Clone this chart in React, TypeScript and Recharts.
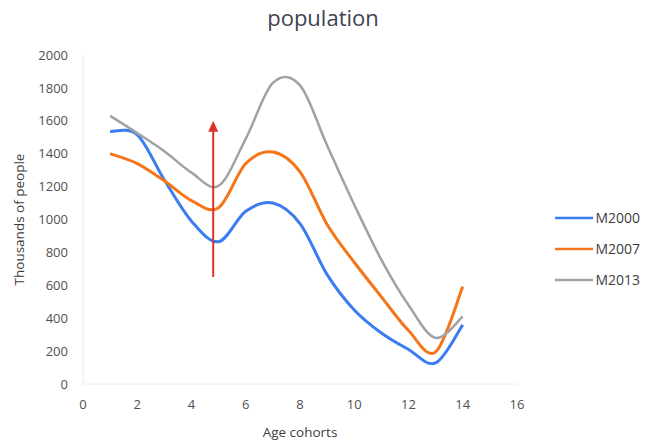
import React from "react";
import {
  LineChart,
  Line,
  XAxis,
  YAxis,
  Legend,
  ReferenceLine,
  ReferenceDot,
} from "recharts";

const cohorts = [1, 2, 3, 4, 5, 6, 7, 8, 9, 10, 11, 12, 13, 14];
const m2000 = [1535, 1515, 1240, 990, 865, 1050, 1100, 975, 665, 450, 310, 210, 128, 360];
const m2007 = [1400, 1340, 1235, 1115, 1072, 1340, 1410, 1290, 970, 740, 530, 325, 195, 592];
const m2013 = [1630, 1525, 1415, 1285, 1205, 1490, 1830, 1815, 1450, 1090, 755, 480, 280, 410];

const xTicks = [0, 2, 4, 6, 8, 10, 12, 14, 16];
const yTicks = [0, 200, 400, 600, 800, 1000, 1200, 1400, 1600, 1800, 2000];

// the red arrow drawn over the chart
const arrowX = 4.8;
const arrowFrom = 650;
const arrowTo = 1600;

const series = [
  { key: "M2000", color: "#3b7cf0", width: 3 },
  { key: "M2007", color: "#f5761a", width: 3 },
  { key: "M2013", color: "#a2a2a6", width: 2.5 },
];

const data = cohorts.map((age, i) => ({
  age,
  M2000: m2000[i],
  M2007: m2007[i],
  M2013: m2013[i],
}));

// Excel-like smoothed line (Catmull-Rom through every point)
function smoothCurve(context: any) {
  let pts: number[][] = [];
  return {
    areaStart() {},
    areaEnd() {},
    lineStart() {
      pts = [];
    },
    point(x: number, y: number) {
      pts.push([+x, +y]);
    },
    lineEnd() {
      const n = pts.length;
      if (!n) return;
      context.moveTo(pts[0][0], pts[0][1]);
      for (let i = 0; i < n - 1; i++) {
        const p0 = pts[i - 1] || pts[i];
        const p1 = pts[i];
        const p2 = pts[i + 1];
        const p3 = pts[i + 2] || p2;
        context.bezierCurveTo(
          p1[0] + (p2[0] - p0[0]) / 6,
          p1[1] + (p2[1] - p0[1]) / 6,
          p2[0] - (p3[0] - p1[0]) / 6,
          p2[1] - (p3[1] - p1[1]) / 6,
          p2[0],
          p2[1]
        );
      }
    },
  };
}

const tickStyle = { fontSize: 13, fill: "#505050" };

function LegendBox() {
  return (
    <div style={{ width: 90 }}>
      {series.map((s) => (
        <div
          key={s.key}
          style={{ height: 31, display: "flex", alignItems: "center", fontSize: 14, color: "#404040" }}
        >
          <svg width={42} height={6} style={{ marginLeft: 5 }}>
            <line x1={0} y1={3} x2={38} y2={3} stroke={s.color} strokeWidth={2.5} />
          </svg>
          <span>{s.key}</span>
        </div>
      ))}
    </div>
  );
}

export default function App() {
  return (
    <div
      style={{
        position: "absolute",
        left: 0,
        top: 0,
        width: 646,
        height: 442,
        background: "#fff",
        fontFamily: '"Open Sans", sans-serif',
      }}
    >
      <div
        style={{
          position: "absolute",
          top: 2,
          left: 0,
          width: 646,
          textAlign: "center",
          fontSize: 22,
          color: "#3f4350",
        }}
      >
        population
      </div>
      <LineChart width={646} height={442} data={data} margin={{ top: 55, right: 39, bottom: 8, left: 5 }}>
        <XAxis
          dataKey="age"
          type="number"
          domain={[0, 16]}
          ticks={xTicks}
          height={50}
          tick={tickStyle}
          tickLine={false}
          tickSize={0}
          tickMargin={16}
          stroke="#ececec"
          label={{ value: "Age cohorts", position: "insideBottom", offset: -3, fontSize: 13.5, fill: "#404040" }}
        />
        <YAxis
          domain={[0, 2000]}
          ticks={yTicks}
          width={78}
          tick={tickStyle}
          tickLine={false}
          tickSize={0}
          tickMargin={15}
          stroke="#ececec"
          label={{
            value: "Thousands of people",
            angle: -90,
            position: "insideLeft",
            offset: 14,
            fontSize: 13.5,
            fill: "#404040",
            style: { textAnchor: "middle" },
          }}
        />
        <Legend
          layout="vertical"
          align="right"
          verticalAlign="middle"
          content={() => <LegendBox />}
          wrapperStyle={{ left: 550, top: 202 }}
        />
        {series.map((s) => (
          <Line
            key={s.key}
            dataKey={s.key}
            type={smoothCurve as any}
            stroke={s.color}
            strokeWidth={s.width}
            dot={false}
            activeDot={false}
            isAnimationActive={false}
          />
        ))}
        <ReferenceLine
          segment={[
            { x: arrowX, y: arrowFrom },
            { x: arrowX, y: arrowTo - 40 },
          ]}
          stroke="#e0302a"
          strokeWidth={2}
        />
        <ReferenceDot
          x={arrowX}
          y={arrowTo}
          r={5}
          shape={(p: any) => (
            <polygon
              points={`${p.cx},${p.cy} ${p.cx - 5},${p.cy + 11} ${p.cx + 5},${p.cy + 11}`}
              fill="#e0302a"
            />
          )}
        />
      </LineChart>
    </div>
  );
}
